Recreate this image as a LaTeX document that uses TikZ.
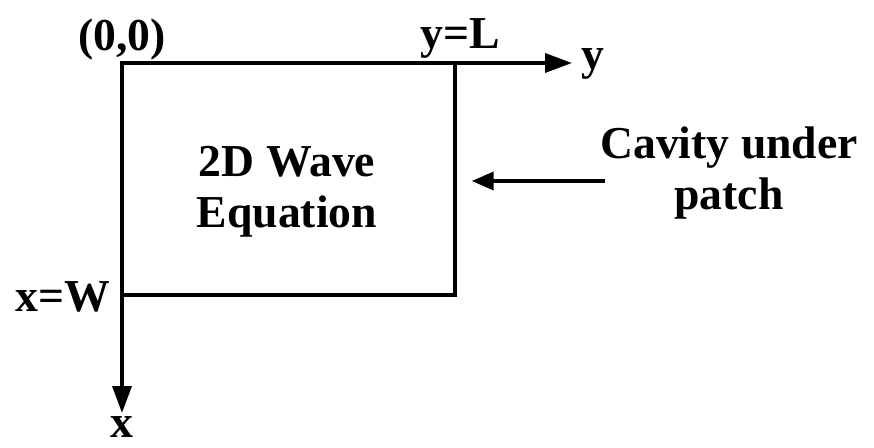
\documentclass[tikz,border=0pt]{standalone}
\usepackage{fontspec}
\setmainfont{Liberation Serif}
\usetikzlibrary{arrows.meta, positioning, calc}

\begin{document}
\begin{tikzpicture}[
    x=0.02cm, y=-0.02cm,
    line width=2pt,
    label/.style={font=\bfseries\fontsize{26}{29}\selectfont, inner sep=0pt},
    axis/.style={-{Triangle[length=0.54cm, width=0.38cm]}},
    pointer/.style={-{Triangle[length=0.44cm, width=0.36cm]}}
]
    \useasboundingbox (0,0) rectangle (874,448);

    % Cavity
    \coordinate (origin) at (122,63);
    \node[draw, minimum width=6.66cm, minimum height=4.64cm, inner sep=0pt] (cavity) at (288.5,179) {};
    \node[label, align=center] (eqn) at (287,192) {2D Wave\\Equation};

    % Axes
    \coordinate (yend) at (572,63);
    \coordinate (xend) at (122,413);
    \draw[axis] (origin) -- (yend);
    \draw[axis] (origin) -- (xend);
    \node[label] (orig) at (122,40) {(0,0)};
    \node[label] (ylen) at (460,38) {y=L};
    \node[label, anchor=base west] (ylab) at (580,70) {y};
    \node[label] (xwid) at (63,297) {x=W};
    \node[label, anchor=base] (xlab) at (122,438) {x};

    % Label
    \node[label, align=center] (note) at (729,173) {Cavity under\\patch};
    \coordinate (tail) at (605,181);
    \draw[pointer] (tail) -- (tail -| cavity.east) [shorten >=15*0.02cm];
\end{tikzpicture}
\end{document}
